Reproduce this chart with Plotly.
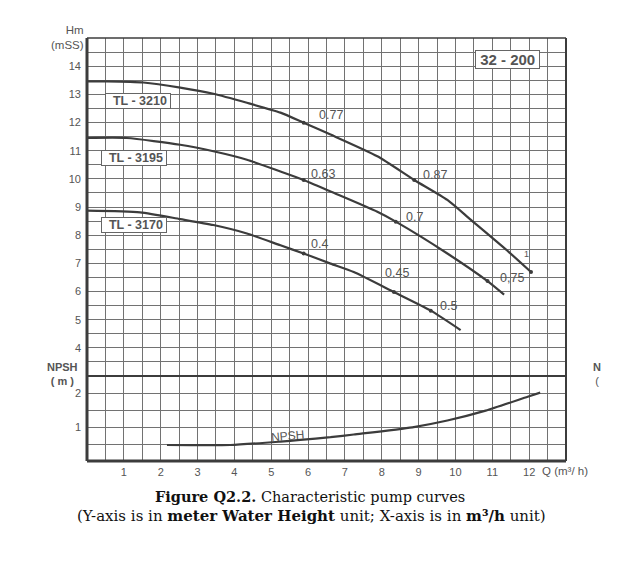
import plotly.graph_objects as go

# ---------------- data ----------------
Q_3210 = [0, 0.54, 1.53, 2.53, 3.43, 4.34, 5.25, 5.88, 6.61, 7.88, 8.88, 9.78, 10.42, 11.45, 12.05]
H_3210 = [13.46, 13.46, 13.42, 13.24, 13.02, 12.70, 12.35, 11.99, 11.57, 10.80, 9.96, 9.25, 8.54, 7.40, 6.69]

Q_3195 = [0, 1.08, 2.53, 3.43, 4.34, 5.25, 5.88, 6.61, 7.88, 8.38, 9.78, 10.87, 11.32]
H_3195 = [11.45, 11.45, 11.21, 10.98, 10.68, 10.26, 9.96, 9.55, 8.83, 8.48, 7.35, 6.37, 5.89]

Q_3170 = [0, 1.44, 2.53, 3.43, 4.34, 5.25, 5.88, 6.61, 7.24, 8.33, 9.33, 10.14]
H_3170 = [8.87, 8.81, 8.57, 8.36, 8.06, 7.64, 7.35, 6.99, 6.69, 5.98, 5.32, 4.63]

Q_NPSH = [2.17, 3.89, 5.25, 5.79, 6.61, 7.24, 8.83, 9.78, 10.82, 11.96, 12.3]
NPSH = [0.47, 0.47, 0.57, 0.62, 0.70, 0.78, 0.99, 1.19, 1.48, 1.89, 2.01]

# efficiency points (Q, H, label)
EFF_Q = [5.88, 8.88, 12.05, 5.88, 8.38, 10.87, 5.88, 8.33, 9.33]
EFF_H = [11.99, 9.96, 6.69, 9.96, 8.48, 6.37, 7.35, 5.98, 5.32]
EFF_LABELS = ["0.77", "0.87", "1", "0.63", "0.7", "0,75", "0.4", "0.45", "0.5"]

CURVE_NAMES = ["TL - 3210", "TL - 3195", "TL - 3170"]
MODEL = "32 - 200"

Q_TICKS = list(range(1, 13))
H_TICKS = list(range(4, 15))
NPSH_TICKS = [1, 2]

# ---------------- geometry helpers ----------------
# the page body has an 8px margin, so the figure is drawn 8px smaller
OFF = 8
W, HGT = 619 - OFF, 583 - OFF
L, R, T, B = 87, 566, 38, 461   # plot area in page pixels


def px(x):
    return (x - L) / (R - L)


def py(y):
    return (B - y) / (B - T)


SPLIT = py(376)

LINE = "#3c3c3c"
GRID = "#727272"
TXT = "#555555"
SANS = "Liberation Sans, Arial, sans-serif"
SERIF = "DejaVu Serif, serif"

fig = go.Figure()

for q, h in [(Q_3210, H_3210), (Q_3195, H_3195), (Q_3170, H_3170)]:
    fig.add_trace(go.Scatter(x=q, y=h, mode="lines", xaxis="x", yaxis="y",
                             line=dict(color=LINE, width=2.2, shape="spline", smoothing=0.6),
                             hoverinfo="skip", showlegend=False))

fig.add_trace(go.Scatter(x=EFF_Q, y=EFF_H, mode="markers", xaxis="x", yaxis="y",
                         marker=dict(color=LINE, size=4), hoverinfo="skip", showlegend=False))

fig.add_trace(go.Scatter(x=Q_NPSH, y=NPSH, mode="lines", xaxis="x", yaxis="y2",
                         line=dict(color=LINE, width=2.2, shape="spline", smoothing=0.6),
                         hoverinfo="skip", showlegend=False))


def half_steps(lo, hi):
    vals = []
    v = lo
    while v <= hi + 1e-9:
        vals.append(round(v, 2))
        v += 0.5
    return vals


def tick_text(vals, labelled):
    return [str(int(v)) if (v == int(v) and int(v) in labelled) else "" for v in vals]


xv = half_steps(0.5, 12.5)
yv = half_steps(3.5, 14.5)
y2v = half_steps(0.5, 2.0)

axis_common = dict(showgrid=True, gridcolor=GRID, gridwidth=1, zeroline=False, ticks="",
                   showline=False, tickfont=dict(family=SANS, size=11, color=TXT), fixedrange=True)

fig.update_layout(
    width=W, height=HGT, autosize=False,
    margin=dict(l=L - OFF, r=(W + OFF) - R, t=T - OFF, b=(HGT + OFF) - B, pad=0),
    paper_bgcolor="white", plot_bgcolor="white",
    xaxis=dict(range=[0, 13], tickvals=xv, ticktext=tick_text(xv, Q_TICKS),
               anchor="y2", ticklabelstandoff=3, **axis_common),
    yaxis=dict(range=[3, 15], domain=[SPLIT, 1], tickvals=yv, ticktext=tick_text(yv, H_TICKS),
               anchor="x", ticklabelstandoff=5, **axis_common),
    yaxis2=dict(range=[0, 2.5], domain=[0, SPLIT], tickvals=y2v, ticktext=tick_text(y2v, NPSH_TICKS),
                anchor="x", ticklabelstandoff=5, **axis_common),
)

shapes = [
    dict(type="line", xref="paper", yref="paper", x0=0, x1=1, y0=SPLIT, y1=SPLIT,
         line=dict(color=LINE, width=2)),
    dict(type="line", xref="paper", yref="paper", x0=0, x1=0, y0=0, y1=1, line=dict(color=LINE, width=3)),
    dict(type="line", xref="paper", yref="paper", x0=0, x1=1, y0=0, y1=0, line=dict(color=LINE, width=3)),
    dict(type="line", xref="paper", yref="paper", x0=1, x1=1, y0=0, y1=1, line=dict(color=LINE, width=2)),
    dict(type="line", xref="paper", yref="paper", x0=0, x1=1, y0=1, y1=1, line=dict(color=LINE, width=1.5)),
]
fig.update_layout(shapes=shapes)

ann = []
NB = "&nbsp;"
# curve name boxes
name_pos = [(1.39, 12.77), (1.28, 10.73), (1.28, 8.37)]
for name, (x, y) in zip(CURVE_NAMES, name_pos):
    ann.append(dict(x=x, y=y, xref="x", yref="y", text=NB * 2 + "<b>" + name + "</b>" + NB,
                    showarrow=False, font=dict(family=SANS, size=12.5, color=TXT), bgcolor="white",
                    bordercolor="#666666", borderwidth=1, borderpad=0))
ann.append(dict(x=11.4, y=14.23, xref="x", yref="y", text=NB + "<b>" + MODEL + "</b>" + NB,
                showarrow=False, font=dict(family=SANS, size=15, color=TXT), bgcolor="white",
                bordercolor="#666666", borderwidth=1, borderpad=0))

# efficiency labels
offsets = [(27, 8), (21, 5), (-5, 18), (19, 6), (19, 5), (24, 3), (16, 9), (3, 19), (18, 5)]
for q, h, lab, (dx, dy) in zip(EFF_Q, EFF_H, EFF_LABELS, offsets):
    ann.append(dict(x=q, y=h, xref="x", yref="y", text=lab, showarrow=False, xshift=dx, yshift=dy,
                    font=dict(family=SANS, size=12.5 if lab != "1" else 9, color=TXT)))

# NPSH curve label
ann.append(dict(x=5.45, y=0.74, xref="x", yref="y2", text="NPSH", showarrow=False, textangle=-5,
                font=dict(family=SANS, size=12, color=TXT)))


def paper_text(x, y, text, size, family=SANS, color=TXT, xanchor="center", align="center"):
    return dict(x=px(x), y=py(y), xref="paper", yref="paper", xanchor=xanchor, yanchor="middle",
                align=align, text=text, showarrow=False,
                font=dict(family=family, size=size, color=color))


# axis titles (two-line blocks)
ann.append(paper_text(86, 37.5, "Hm<br>(mSS)", 11.5, xanchor="right", align="right"))
ann.append(paper_text(62, 374, "<b>NPSH</b><br><b>( m )</b>", 11))
ann.append(paper_text(540, 471, "Q (m³/ h)", 11.5, xanchor="left"))
ann.append(paper_text(597, 374, "<b>N</b><br>(", 11))

# caption
ann.append(paper_text(310, 497, "<b>Figure Q2.2.</b> Characteristic pump curves", 14.5,
                      family=SERIF, color="#111111"))
ann.append(paper_text(311, 516,
                      "(Y-axis is in <b>meter Water Height</b> unit; X-axis is in <b>m³/h</b> unit)",
                      15, family=SERIF, color="#111111"))

fig.update_layout(annotations=ann)

fig.write_html("out.html")
